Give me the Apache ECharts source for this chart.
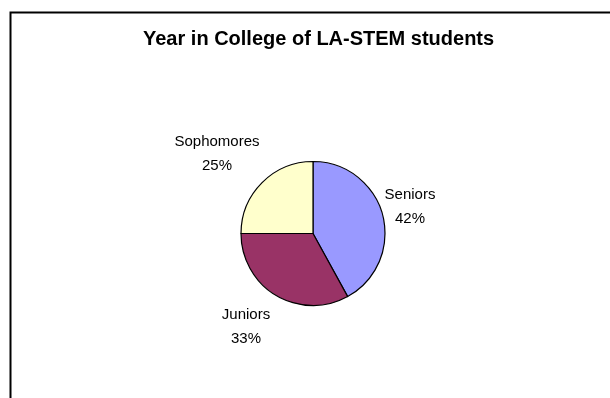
<!DOCTYPE html>
<html>
<head>
<meta charset="utf-8">
<script src="https://cdn.jsdelivr.net/npm/echarts@6/dist/echarts.min.js"></script>
<style>
html,body{margin:0;padding:0;background:#fff;}
#chart{width:610px;height:398px;}
</style>
</head>
<body>
<div id="chart"></div>
<script>
const categories = ['Seniors', 'Juniors', 'Sophomores'];
const values = [42, 33, 25];
const colors = ['#9999FF', '#993366', '#FFFFCC'];
const titleText = 'Year in College of LA-STEM students';

const chart = echarts.init(document.getElementById('chart'), null, {renderer: 'canvas'});
const FONT = 'Liberation Sans, Arial, sans-serif';
const CX = 313, CY = 233.5, R = 72;
// label placement relative to pie centre (layout only)
const labelShift = [[97, -27], [-67, 93], [-96, -80]];

const option = {
  backgroundColor: '#ffffff',
  animation: false,
  title: {
    text: titleText,
    left: 138,
    top: 24,
    textStyle: {fontFamily: FONT, fontSize: 20, fontWeight: 'bold', color: '#000'}
  },
  graphic: [{
    type: 'rect',
    left: 8, top: 10,
    shape: {width: 700, height: 500},
    style: {fill: 'none', stroke: '#000', lineWidth: 2},
    silent: true
  }],
  series: [{
    type: 'pie',
    center: [CX, CY],
    radius: R,
    startAngle: 90,
    clockwise: true,
    data: categories.map((c, i) => ({name: c, value: values[i], itemStyle: {color: colors[i]}})),
    itemStyle: {borderColor: '#000', borderWidth: 1.2},
    label: {
      show: true,
      position: 'outside',
      formatter: (p) => '{a|' + p.name + '}\n{a|' + Math.round(p.percent) + '%}',
      rich: {a: {fontFamily: FONT, fontSize: 15, color: '#000', lineHeight: 24, align: 'center'}}
    },
    labelLine: {show: false},
    labelLayout: function (params) {
      const s = labelShift[params.dataIndex];
      return {x: CX + s[0], y: CY + s[1], align: 'center', verticalAlign: 'middle'};
    },
    emphasis: {disabled: true}
  }]
};
chart.setOption(option);
</script>
</body>
</html>
